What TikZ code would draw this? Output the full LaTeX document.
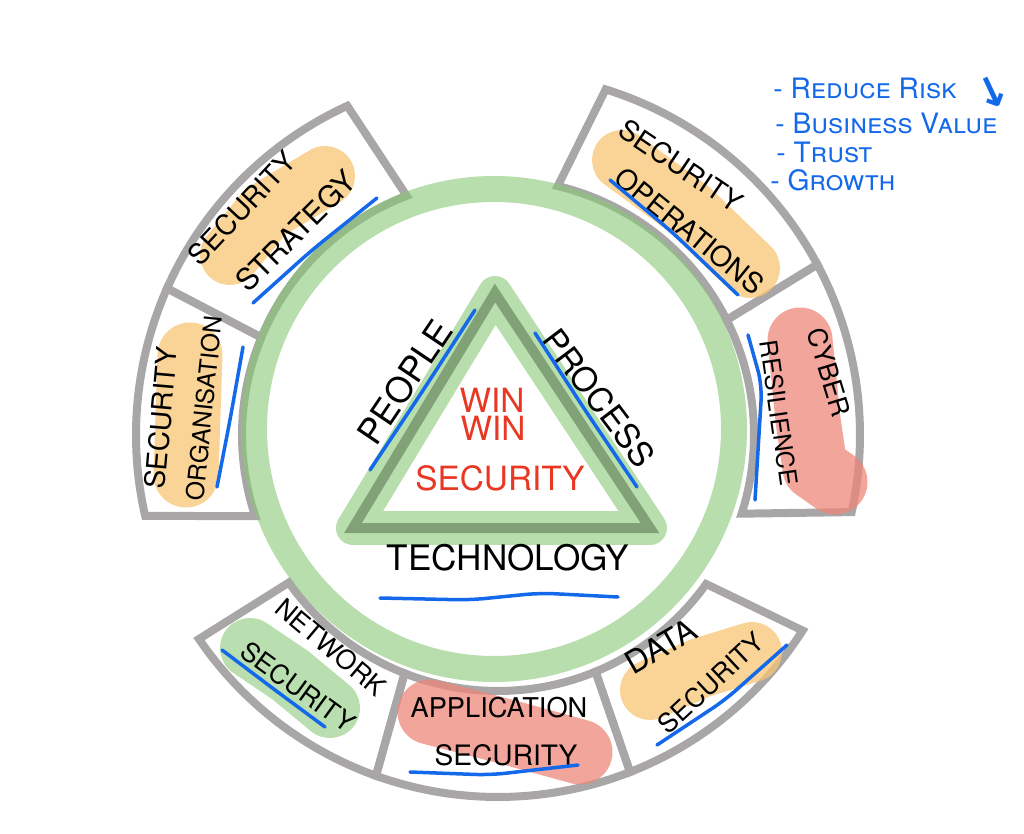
\documentclass[tikz,border=0pt]{standalone}
\usepackage{fontspec}
\setmainfont{TeX Gyre Heros}
\newfontfamily\arrowfont{DejaVu Sans}
\definecolor{ringgray}{RGB}{168,166,166}
\definecolor{softgreen}{RGB}{135,200,117}
\definecolor{darkgreen}{RGB}{128,162,118}
\definecolor{hlorange}{RGB}{248,198,115}
\definecolor{hlpink}{RGB}{238,135,122}
\definecolor{hlgreen}{RGB}{162,211,148}
\definecolor{inkblue}{RGB}{20,105,235}
\definecolor{winred}{RGB}{232,55,35}
\begin{document}
\begin{tikzpicture}[x=0.02cm,y=-0.02cm,
    seg/.style={draw=ringgray,line width=0.16cm,line join=miter},
    halo/.style={draw=softgreen,draw opacity=0.6},
    hl/.style={line width=#1,line cap=round,line join=round,draw opacity=0.75},
    uline/.style={draw=inkblue,line width=0.07cm,line cap=round,rounded corners=0.3cm},
    lbl/.style={font=\fontsize{#1}{#1}\selectfont,inner sep=0pt},
    note/.style={lbl=16,text=inkblue,anchor=west},
    win/.style={lbl=19,text=winred}
  ]
  \useasboundingbox (0,0) rectangle (1024,834);

  % outer ring of topics
  \begin{scope}[shift={(498,435)},yscale=-1]
    \draw[seg] (26.7:256) -- (28.1:362) arc[start angle=28.1,end angle=72.7,radius=362] -- (76.5:256) arc[start angle=76.5,end angle=26.7,radius=256] -- cycle;
    \draw[seg] (110.9:256) -- (114.6:362) arc[start angle=114.6,end angle=156.1,radius=362] -- (157.6:256) arc[start angle=157.6,end angle=110.9,radius=256] -- cycle;
    \draw[seg] (157.6:256) -- (156.1:362) arc[start angle=156.1,end angle=192.9,radius=362] -- (198.5:256) arc[start angle=198.5,end angle=157.6,radius=256] -- cycle;
    \draw[seg] (215.2:256) -- (214.3:362) arc[start angle=214.3,end angle=250.3,radius=362] -- (248.6:256) arc[start angle=248.6,end angle=215.2,radius=256] -- cycle;
    \draw[seg] (248.6:256) -- (250.3:362) arc[start angle=250.3,end angle=291.4,radius=362] -- (292.4:256) arc[start angle=292.4,end angle=248.6,radius=256] -- cycle;
    \draw[seg] (292.4:256) -- (291.4:362) arc[start angle=291.4,end angle=327.3,radius=362] -- (324.4:256) arc[start angle=324.4,end angle=292.4,radius=256] -- cycle;
    \draw[seg] (342.1:256) -- (347.7:362) arc[start angle=347.7,end angle=388.1,radius=362] -- (386.7:256) arc[start angle=386.7,end angle=342.1,radius=256] -- cycle;
  \end{scope}

  % green circle and triangle
  \draw[halo,line width=0.52cm] (494,429) circle[radius=240];
  \coordinate (top) at (495,293);
  \coordinate (left) at (353,528);
  \coordinate (right) at (650,528);
  \draw[halo,line width=0.68cm,line join=round] (top) -- (left) -- (right) -- cycle;
  \draw[draw=darkgreen,line width=0.2cm,line join=miter] (top) -- (left) -- (right) -- cycle;

  % highlighter blobs
  \draw[hl=1.2cm,draw=hlorange] (230,255) -- (265,212) -- (325,176);
  \draw[hl=1.3cm,draw=hlorange] (190,355) -- (188,415) -- (186,475);
  \draw[hl=1.2cm,draw=hlorange] (622,160) -- (690,210) -- (750,268);
  \draw[hl=1.3cm,draw=hlpink] (800,340) -- (808,420) -- (815,468) -- (835,482);
  \draw[hl=1.2cm,draw=hlgreen] (250,648) -- (290,675) -- (330,708);
  \draw[hl=1.3cm,draw=hlpink] (430,712) -- (500,730) -- (580,752);
  \draw[hl=1.2cm,draw=hlorange] (650,690) -- (700,668) -- (752,652);

  % topic labels
  \node[lbl=16,rotate=47] (strat1) at (242,208) {SECURITY};
  \node[lbl=17,rotate=45] (strat2) at (296,231) {STRATEGY};
  \node[lbl=16,rotate=85] (org1) at (161,418) {SECURITY};
  \node[lbl=14,rotate=84] (org2) at (204,408) {ORGANISATION};
  \node[lbl=16,rotate=-34] (ops1) at (681,166) {SECURITY};
  \node[lbl=16,rotate=-39] (ops2) at (690,231) {OPERATIONS};
  \node[lbl=15,rotate=-73] (cyb1) at (829,372) {CYBER};
  \node[lbl=14,rotate=-82] (cyb2) at (779,413) {RESILIENCE};
  \node[lbl=15,rotate=-40] (net1) at (331,647) {NETWORK};
  \node[lbl=15,rotate=-36] (net2) at (298,687) {SECURITY};
  \node[lbl=15.5] (app1) at (499,708) {APPLICATION};
  \node[lbl=16] (app2) at (506,755) {SECURITY};
  \node[lbl=18,rotate=30] (data1) at (661,646) {DATA};
  \node[lbl=15,rotate=43] (data2) at (711,683) {SECURITY};

  % triangle labels
  \node[lbl=20,rotate=56] (people) at (405,382) {PEOPLE};
  \node[lbl=19,rotate=-53] (process) at (599,398) {PROCESS};
  \node[lbl=20] (tech) at (508,558) {TECHNOLOGY};
  \node[win] (win1) at (492,400) {WIN};
  \node[win] (win2) at (493,428) {WIN};
  \node[win] (winsec) at (500,478) {SECURITY};

  % underlines
  \draw[uline] (253,303) -- (312,250) -- (377,198);
  \draw[uline] (243,347) -- (230,420) -- (217,487);
  \draw[uline] (610,180) -- (672,232) -- (738,295);
  \draw[uline] (748,335) -- (762,385) -- (755,500);
  \draw[uline] (222,650) -- (275,690) -- (325,727);
  \draw[uline] (410,772) -- (490,775) -- (578,765);
  \draw[uline] (657,745) -- (725,700) -- (787,645);
  \draw[uline] (370,470) -- (422,392) -- (475,310);
  \draw[uline] (535,333) -- (585,410) -- (637,487);
  \draw[uline] (380,598) -- (470,600) -- (540,593) -- (618,597);

  % notes
  \node[note] (risk) at (773,88) {- \textsc{Reduce Risk}};
  \node[lbl=24,text=inkblue,rotate=25] (riskarrow) at (992,92) {\arrowfont\bfseries ↓};
  \node[note] (value) at (775,123) {- \textsc{Business Value}};
  \node[note] (trust) at (776,152) {- \textsc{Trust}};
  \node[note] (growth) at (770,180) {- \textsc{Growth}};
\end{tikzpicture}
\end{document}
